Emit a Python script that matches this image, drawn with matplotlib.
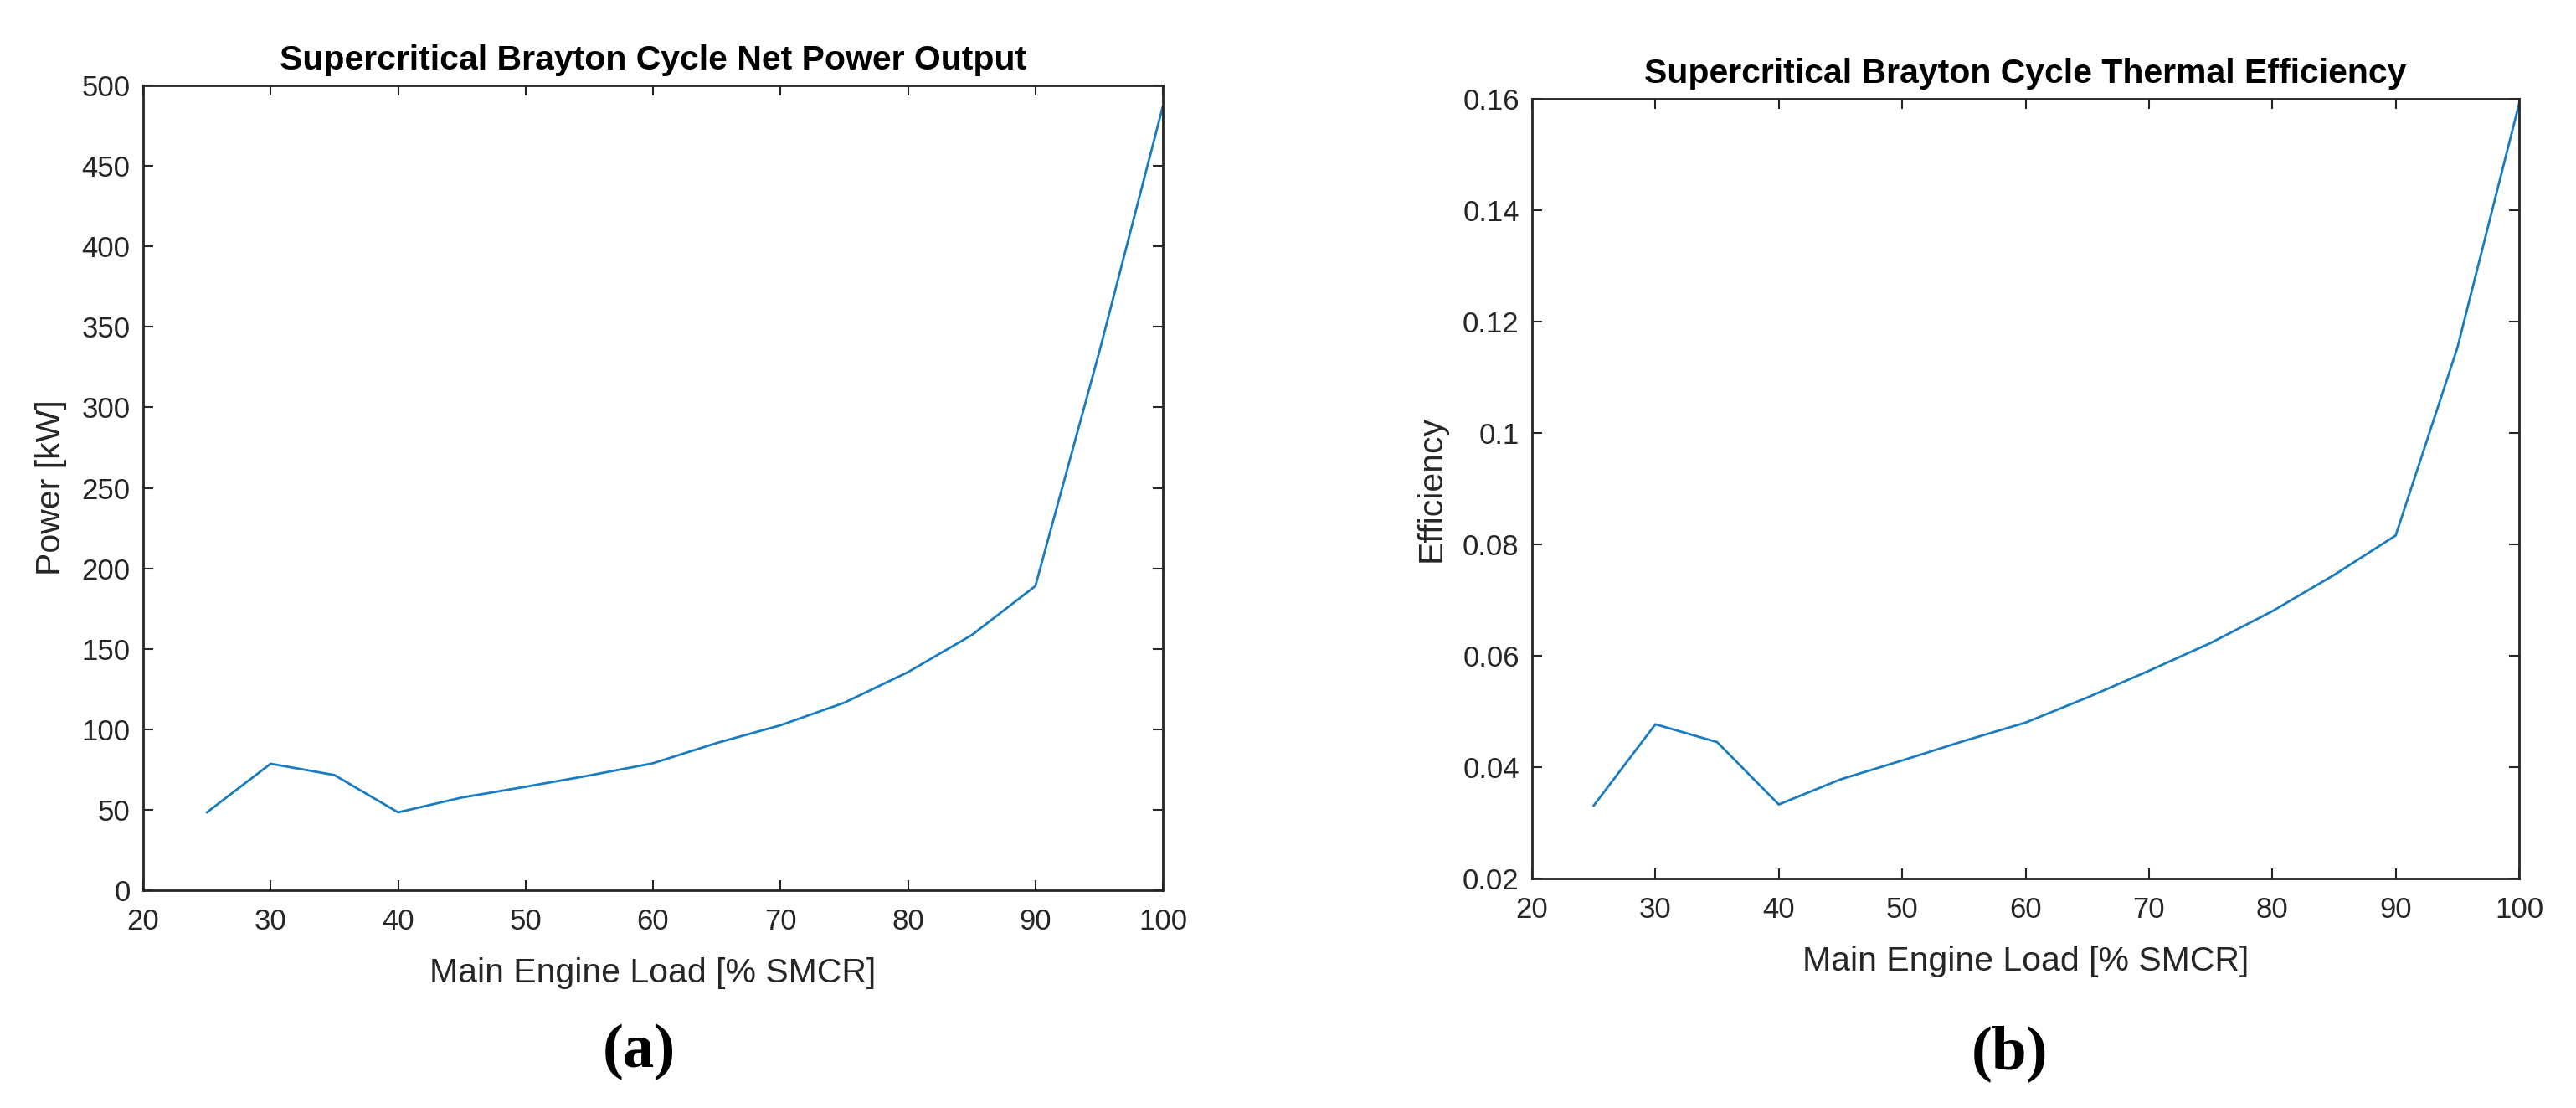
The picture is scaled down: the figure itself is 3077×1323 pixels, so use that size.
import numpy as np
import matplotlib
matplotlib.use("Agg")
import matplotlib.pyplot as plt
from matplotlib.ticker import FormatStrFormatter

# engine load points [% SMCR]
load = [25, 30, 35, 40, 45, 50, 55, 60, 65, 70, 75, 80, 85, 90, 95, 100]

# net power output [kW]
power = [48.4, 78.6, 71.6, 48.4, 57.6, 64.3, 71.3, 78.9, 91.5, 102.5,
         116.5, 135.5, 158.5, 189.0, 334.0, 487.0]

# thermal efficiency [-]
eff = [0.0331, 0.0477, 0.0445, 0.0333, 0.0378, 0.0412, 0.0447, 0.0480,
       0.0525, 0.0573, 0.0623, 0.0680, 0.0745, 0.0816, 0.1153, 0.1591]

power_ticks = np.arange(0, 501, 50)
eff_ticks = [0.02, 0.04, 0.06, 0.08, 0.1, 0.12, 0.14, 0.16]
load_ticks = np.arange(20, 101, 10)

plt.rcParams['font.family'] = ['Liberation Sans', 'DejaVu Sans']

W, H = 3077, 1323
fig = plt.figure(figsize=(W / 100, H / 100), dpi=100)
fig.patch.set_facecolor('white')

line_col = '#1a7cc0'
ax_col = '#262626'


def box(left, top, right, bottom):
    # pixel box -> figure fraction
    return [left / W, (H - bottom) / H, (right - left) / W, (bottom - top) / H]


def style(ax):
    for s in ax.spines.values():
        s.set_linewidth(2.0)
        s.set_color(ax_col)
    ax.tick_params(direction='in', length=8.5, width=1.5, colors=ax_col,
                   labelsize=25, top=True, right=True)
    ax.tick_params(axis='x', pad=15)
    ax.tick_params(axis='y', pad=11)


# ---------------- (a) net power ----------------
ax1 = fig.add_axes(box(171, 102, 1389, 1063))
ax1.plot(load, power, color=line_col, linewidth=2)
ax1.set_xlim(20, 100)
ax1.set_ylim(0, 500)
ax1.set_xticks(load_ticks)
ax1.set_yticks(power_ticks)
style(ax1)
ax1.set_title('Supercritical Brayton Cycle Net Power Output',
              fontsize=29.5, fontweight='bold', color='black', pad=14)
ax1.set_xlabel('Main Engine Load [% SMCR]', fontsize=29.5, color=ax_col)
ax1.set_ylabel('Power [kW]', fontsize=29.5, color=ax_col)
ax1.xaxis.set_label_coords(0.5, -0.083)
ax1.yaxis.set_label_coords(-0.075, 0.5)

# ---------------- (b) thermal efficiency ----------------
ax2 = fig.add_axes(box(1830, 118, 3009, 1049))
ax2.plot(load, eff, color=line_col, linewidth=2)
ax2.set_xlim(20, 100)
ax2.set_ylim(0.02, 0.16)
ax2.set_xticks(load_ticks)
ax2.set_yticks(eff_ticks)
ax2.yaxis.set_major_formatter(FormatStrFormatter('%g'))
style(ax2)
ax2.set_title('Supercritical Brayton Cycle Thermal Efficiency',
              fontsize=29.5, fontweight='bold', color='black', pad=14)
ax2.set_xlabel('Main Engine Load [% SMCR]', fontsize=29.5, color=ax_col)
ax2.set_ylabel('Efficiency', fontsize=29.5, color=ax_col)
ax2.xaxis.set_label_coords(0.5, -0.086)
ax2.yaxis.set_label_coords(-0.086, 0.5)

# panel letters
fig.text(763 / W, 1 - 1256 / H, '(a)', ha='center', va='center',
         fontsize=54, fontweight='bold', family='Liberation Serif')
fig.text(2400 / W, 1 - 1258 / H, '(b)', ha='center', va='center',
         fontsize=54, fontweight='bold', family='Liberation Serif')

fig.savefig('out.png', dpi=100)
